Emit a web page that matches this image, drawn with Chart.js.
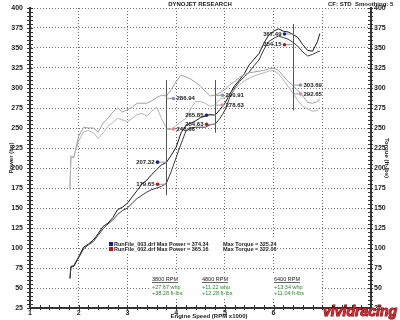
<!DOCTYPE html>
<html>
<head>
<meta charset="utf-8">
<script src="https://cdn.jsdelivr.net/npm/chart.js@4.4.0/dist/chart.umd.min.js"></script>
<style>
  html, body { margin:0; padding:0; background:#fff; }
  #wrap { width:400px; height:320px; position:relative; }
</style>
</head>
<body>
<div id="wrap"><canvas id="graph"></canvas></div>
<script>
// engine speed (RPM x1000) shared by both runs
var rpm = [1.82,1.84,1.9,2.0,2.1,2.2,2.3,2.4,2.5,2.6,2.7,2.8,2.9,3.0,3.1,3.2,3.3,3.4,3.5,3.6,3.7,3.8,3.9,
           4.0,4.1,4.2,4.3,4.4,4.5,4.6,4.7,4.8,4.9,5.0,5.1,5.2,5.3,5.4,5.5,5.6,5.7,5.8,5.9,
           6.0,6.1,6.2,6.3,6.4,6.5,6.6,6.7,6.8,6.9,6.95];
// power (hp)
var hp003 = [62,77,78,89,101,105,110,118,127,131,138,148,151,156,164,172,180,185,192,198,204,207,216,
             226,244,253,256,259,263,265,267,266,273,281,292,303,310,318,329,336,343,356,366,
             371,374,371,370,367,363,354,347,346,358,368];
var hp002 = [62,76,77,88,99,104,108,116,124,130,135,142,147,150,156,162,166,170,173,175,177,181,196,
             213,230,246,250,251,251,251,254,255,262,272,288,300,308,314,320,328,335,348,358,
             362,365,363,361,357,352,345,340,342,345,346];
// torque (ft-lbs)
var tq003 = [175,215,213,240,251,250,250,245,256,262,270,275,270,273,276,281,281,281,284,288,291,290,298,
             308,316,314,311,307,302,296,290,291,294,298,304,308,313,317,319,320,321,322,324,
             325,322,315,308,303,297,290,282,281,283,287];
var tq002 = [172,212,214,234,245,247,244,237,244,252,257,262,260,258,262,267,268,265,271,276,262,250,248,
             253,258,262,274,283,283,281,277,279,286,288,291,298,304,309,312,315,317,319,321,
             322,318,310,302,293,284,277,274,271,272,276];

// compare markers
var markRpm = [3.8, 4.8, 6.4];
var markHp003 = [207.32, 265.85, 367.49];
var markHp002 = [179.65, 254.63, 354.15];
var markTq003 = [286.94, 290.91, 303.69];
var markTq002 = [248.66, 278.63, 292.65];
var markTop = [310, 310, 380];
var markBottom = [166, 244, 272];

var runNames = ['RunFile_003.drf', 'RunFile_002.drf'];
var maxPower = [374.34, 365.16];
var maxTorque = [325.24, 322.06];

var fontFam = '"Liberation Sans", Arial, sans-serif';

function isWhole(v, step){
  var q = v / step;
  return Math.abs(q - Math.round(q)) < 1e-6;
}
function pts(vals){
  return rpm.map(function(r, i){ return {x: r, y: vals[i]}; });
}

function drawMarkers(chart){
  var ctx = chart.ctx, xs = chart.scales.x, ys = chart.scales.y, ys2 = chart.scales.y2;
  ctx.save();
  ctx.font = 'bold 6px ' + fontFam;
  ctx.textBaseline = 'middle';
  for (var i = 0; i < markRpm.length; i++){
    var x = Math.round(xs.getPixelForValue(markRpm[i])) + 0.5;
    ctx.strokeStyle = '#555';
    ctx.lineWidth = 1;
    ctx.beginPath();
    ctx.moveTo(x, ys.getPixelForValue(markTop[i]));
    ctx.lineTo(x, ys.getPixelForValue(markBottom[i]));
    ctx.stroke();

    var sets = [
      [ys, markHp003[i], '#1c1c8c', -9],
      [ys, markHp002[i], '#b01a1a', -9],
      [ys2, markTq003[i], '#8c8cd0', 7],
      [ys2, markTq002[i], '#e08c9c', 7]
    ];
    sets.forEach(function(s){
      var y = s[0].getPixelForValue(s[1]);
      var dx = x + s[3];
      ctx.strokeStyle = '#999';
      ctx.beginPath();
      ctx.moveTo(x, y);
      ctx.lineTo(dx, y);
      ctx.stroke();
      ctx.fillStyle = s[2];
      ctx.beginPath();
      ctx.arc(dx, y, 1.8, 0, Math.PI * 2);
      ctx.fill();
      ctx.fillStyle = '#222';
      if (s[3] < 0){
        ctx.textAlign = 'right';
        ctx.fillText(s[1].toFixed(2), dx - 3, y);
      } else {
        ctx.textAlign = 'left';
        ctx.fillText(s[1].toFixed(2), dx + 3, y);
      }
    });
  }
  ctx.restore();
}

function drawAxisTicks(chart){
  var ctx = chart.ctx, a = chart.chartArea;
  ctx.save();
  ctx.strokeStyle = '#333';
  ctx.lineWidth = 1;
  ctx.beginPath();
  chart.scales.y.ticks.forEach(function(t){
    var y = Math.round(chart.scales.y.getPixelForValue(t.value)) + 0.5;
    ctx.moveTo(a.left - 3, y); ctx.lineTo(a.left + 3, y);
    ctx.moveTo(a.right - 3, y); ctx.lineTo(a.right + 2, y);
  });
  chart.scales.x.ticks.forEach(function(t){
    var x = Math.round(chart.scales.x.getPixelForValue(t.value)) + 0.5;
    ctx.moveTo(x, a.bottom - 3); ctx.lineTo(x, a.bottom + 2);
  });
  ctx.stroke();
  ctx.restore();
}

function drawBoxes(chart){
  var ctx = chart.ctx;
  ctx.save();
  ctx.fillStyle = '#fff';
  ctx.fillRect(108, 239, 168, 13);
  ctx.fillRect(150, 275, 172, 22);
  ctx.restore();
}

function drawTexts(chart){
  var ctx = chart.ctx;
  ctx.save();
  ctx.fillStyle = '#222';
  ctx.textBaseline = 'middle';

  ctx.font = 'bold 6px ' + fontFam;
  ctx.textAlign = 'center';
  ctx.fillText('DYNOJET RESEARCH', 200, 4.5);
  ctx.textAlign = 'left';
  ctx.fillText('CF: STD  Smoothing: 5', 328, 4.5);

  // axis titles
  ctx.save();
  ctx.translate(11, 158);
  ctx.rotate(-Math.PI / 2);
  ctx.textAlign = 'center';
  ctx.fillText('Power (hp)', 0, 0);
  ctx.restore();
  ctx.save();
  ctx.translate(387, 158);
  ctx.rotate(Math.PI / 2);
  ctx.textAlign = 'center';
  ctx.fillText('Torque (ft-lbs)', 0, 0);
  ctx.restore();
  ctx.textAlign = 'center';
  ctx.fillText('Engine Speed (RPM x1000)', 209, 316.5);

  // legend
  var legCols = ['#1c1c8c', '#b01a1a'];
  for (var i = 0; i < runNames.length; i++){
    var y = 244 + i * 5;
    ctx.fillStyle = legCols[i];
    ctx.fillRect(109, y - 2, 4, 4);
    ctx.fillStyle = '#222';
    ctx.textAlign = 'left';
    ctx.font = 'bold 5.5px ' + fontFam;
    ctx.fillText(runNames[i] + ' Max Power = ' + maxPower[i].toFixed(2), 114, y);
    ctx.fillText('Max Torque = ' + maxTorque[i].toFixed(2), 223, y);
  }

  // gains table
  var colX = [152, 202, 274];
  for (var k = 0; k < markRpm.length; k++){
    var head = Math.round(markRpm[k] * 1000) + ' RPM';
    ctx.font = '5.5px ' + fontFam;
    ctx.fillStyle = '#222';
    ctx.fillText(head, colX[k], 279);
    var w = ctx.measureText(head).width;
    ctx.fillRect(colX[k], 282, w, 0.7);
    ctx.fillStyle = '#2d8a2d';
    ctx.fillText('+' + (markHp003[k] - markHp002[k]).toFixed(2) + ' whp', colX[k], 287);
    ctx.fillText('+' + (markTq003[k] - markTq002[k]).toFixed(2) + ' ft-lbs', colX[k], 293);
  }

  // watermark
  ctx.font = 'italic 900 15px ' + fontFam;
  var lw = ctx.measureText('vividracing').width;
  ctx.save();
  ctx.translate(323, 316);
  ctx.scale(74 / lw, 1);
  ctx.textBaseline = 'alphabetic';
  ctx.textAlign = 'left';
  ctx.lineWidth = 1;
  ctx.strokeStyle = '#5a0d0d';
  ctx.strokeText('vividracing', 0, 0);
  ctx.fillStyle = '#d8232c';
  ctx.fillText('vividracing', 0, 0);
  ctx.restore();

  ctx.restore();
}

var overlay = {
  id: 'overlay',
  beforeDatasetsDraw: function(chart){ drawBoxes(chart); },
  afterDatasetsDraw: function(chart){ drawMarkers(chart); },
  afterDraw: function(chart){ drawAxisTicks(chart); drawTexts(chart); }
};

var tickFont = {family: fontFam, size: 7, weight: 'bold'};

var ctx = document.getElementById('graph');
var chart = new Chart(ctx, {
  type: 'line',
  data: {
    datasets: [
      {label: 'Torque 002', data: pts(tq002), yAxisID: 'y2', borderColor: '#b4b4b4'},
      {label: 'Torque 003', data: pts(tq003), yAxisID: 'y2', borderColor: '#a0a0a0'},
      {label: 'Power 002', data: pts(hp002), yAxisID: 'y', borderColor: '#3a3a3a'},
      {label: 'Power 003', data: pts(hp003), yAxisID: 'y', borderColor: '#1a1a1a'}
    ]
  },
  options: {
    responsive: true,
    maintainAspectRatio: false,
    animation: false,
    devicePixelRatio: 1,
    layout: {padding: {top: 8, left: 0, right: 0, bottom: 0}},
    elements: {
      point: {radius: 0},
      line: {borderWidth: 1, tension: 0, fill: false}
    },
    plugins: {
      legend: {display: false},
      tooltip: {enabled: false},
      title: {display: false}
    },
    scales: {
      x: {
        type: 'linear', min: 1, max: 8,
        ticks: {
          stepSize: 0.2, autoSkip: false, maxRotation: 0, padding: 1, color: '#222', font: tickFont,
          callback: function(v){ return (isWhole(v, 1) && v <= 6) ? String(Math.round(v)) : ''; }
        },
        grid: {
          drawTicks: false, lineWidth: 1,
          color: function(c){ return (c.tick && isWhole(c.tick.value, 1)) ? '#707070' : 'rgba(0,0,0,0)'; }
        },
        border: {color: '#333', width: 2, dash: [1, 2]},
        afterFit: function(s){ s.height = 12; s.paddingLeft = 0; s.paddingRight = 0; }
      },
      y: {
        position: 'left', min: 25, max: 400,
        ticks: {
          stepSize: 5, autoSkip: false, padding: 7, color: '#222', font: tickFont,
          callback: function(v){ return isWhole(v, 25) ? String(v) : ''; }
        },
        grid: {
          drawTicks: false, lineWidth: 1,
          color: function(c){ return (c.tick && isWhole(c.tick.value, 25)) ? '#707070' : 'rgba(0,0,0,0)'; }
        },
        border: {color: '#333', width: 2, dash: [1, 2]},
        afterFit: function(s){ s.width = 30; s.paddingTop = 0; s.paddingBottom = 0; }
      },
      y2: {
        position: 'right', min: 25, max: 400,
        ticks: {
          stepSize: 5, autoSkip: false, padding: 3, color: '#222', font: tickFont,
          callback: function(v){ return isWhole(v, 25) ? String(v) : ''; }
        },
        grid: {drawTicks: false, drawOnChartArea: false},
        border: {color: '#333', width: 2},
        afterFit: function(s){ s.width = 29; s.paddingTop = 0; s.paddingBottom = 0; }
      }
    }
  },
  plugins: [overlay]
});
</script>
</body>
</html>
